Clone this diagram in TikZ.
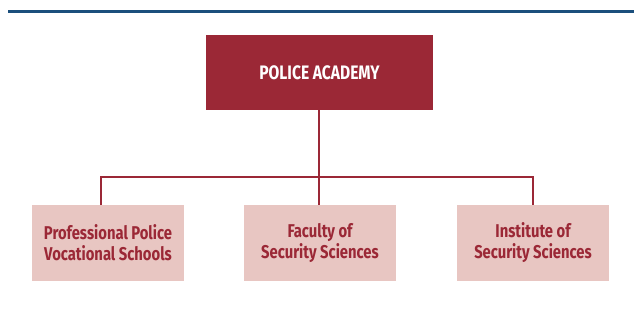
\documentclass[tikz,border=0pt]{standalone}
\usepackage{fontspec}
\setmainfont{Fira Sans}[FakeStretch=0.8]
\definecolor{topline}{HTML}{1B4F7C}
\definecolor{darkred}{HTML}{9B2836}
\definecolor{lightred}{HTML}{E8C6C2}
\begin{document}
\begin{tikzpicture}[x=1pt,y=-1pt,
  topbox/.style={draw=none,fill=darkred,text=white,minimum width=227pt,minimum height=75pt,inner sep=0pt,font=\fontsize{19.5}{22}\selectfont\bfseries},
  subbox/.style={draw=none,fill=lightred,text=darkred,minimum width=152pt,minimum height=76pt,inner sep=0pt,align=center,font=\fontsize{18.5}{20.5}\selectfont\bfseries},
  conn/.style={draw=darkred,line width=2pt}]
\useasboundingbox (0,0) rectangle (634,331);
\draw[topline,line width=2.5pt] (8,11.3) -- (634,11.3);
\node[topbox] (pa) at (319.5,72.8) {POLICE ACADEMY};
\node[subbox] (s1) at (108,242.8) {Professional Police\\Vocational Schools};
\node[subbox] (s2) at (320,242.8) {Faculty of\\Security Sciences};
\node[subbox] (s3) at (533,242.8) {Institute of\\Security Sciences};
\coordinate (h) at (318.5,177.5);
\draw[conn] (pa.south -| h) -- (h);
\draw[conn] (s1.north -| 100.7,0) |- (h) -| (s3.north -| 532.7,0);
\draw[conn] (h) -- (s2.north -| h);
\end{tikzpicture}
\end{document}
